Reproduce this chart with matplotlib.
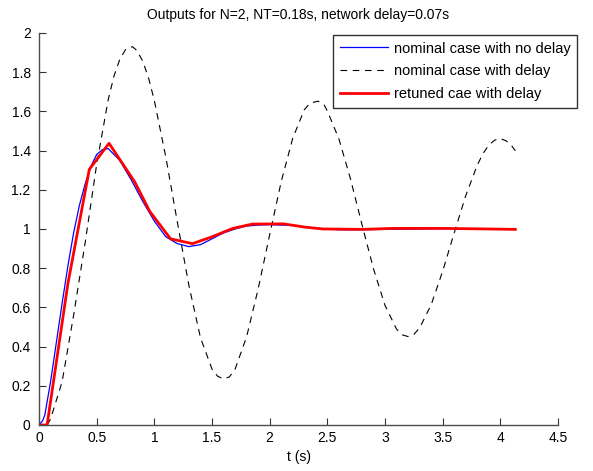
import matplotlib
matplotlib.use("Agg")
import matplotlib.pyplot as plt
from matplotlib.ticker import FormatStrFormatter

plt.rcParams['font.family'] = ['Liberation Sans', 'DejaVu Sans']

# nominal case with no delay (blue)
t_blue = [0, 0.03, 0.05, 0.1, 0.15, 0.2, 0.25, 0.3, 0.35, 0.4, 0.45, 0.5, 0.55,
          0.6, 0.7, 0.8, 0.9, 1.0, 1.1, 1.2, 1.3, 1.4, 1.5, 1.6, 1.7, 1.8,
          1.9, 2.0, 2.2, 2.4, 2.6, 2.8, 3.0, 3.3, 3.6, 3.9, 4.13]
y_blue = [0, 0.02, 0.05, 0.22, 0.42, 0.62, 0.81, 0.98, 1.12, 1.23, 1.32, 1.38, 1.405,
          1.41, 1.35, 1.25, 1.14, 1.04, 0.96, 0.925, 0.91, 0.92, 0.95, 0.98, 1.0, 1.015,
          1.02, 1.022, 1.018, 1.004, 0.996, 0.996, 0.998, 1.0, 1.002, 1.0, 0.998]

# nominal case with delay (black dashed)
t_dash = [0.07, 0.1, 0.2, 0.3, 0.4, 0.5, 0.6, 0.65, 0.7, 0.75, 0.81, 0.85, 0.9, 0.95,
          1.0, 1.1, 1.2, 1.3, 1.4, 1.5, 1.55, 1.6, 1.65, 1.7, 1.8, 1.9, 2.0, 2.1,
          2.2, 2.3, 2.35, 2.42, 2.47, 2.5, 2.6, 2.7, 2.8, 2.9, 3.0, 3.1, 3.15, 3.2,
          3.25, 3.3, 3.4, 3.5, 3.6, 3.7, 3.8, 3.85, 3.9, 3.95, 4.0, 4.05, 4.1, 4.13]
y_dash = [0.0, 0.03, 0.22, 0.56, 0.93, 1.33, 1.66, 1.78, 1.865, 1.915, 1.93, 1.91, 1.855, 1.77,
          1.655, 1.365, 1.033, 0.711, 0.445, 0.285, 0.248, 0.235, 0.245, 0.285, 0.45, 0.694, 0.971, 1.242,
          1.463, 1.608, 1.642, 1.652, 1.635, 1.602, 1.46, 1.257, 1.023, 0.797, 0.61, 0.489, 0.46, 0.451,
          0.462, 0.495, 0.613, 0.785, 0.98, 1.17, 1.326, 1.385, 1.428, 1.453, 1.461, 1.45, 1.423, 1.399]

# retuned case with delay (red)
t_red = [0, 0.07, 0.25, 0.436, 0.607, 0.83, 0.96, 1.14, 1.33, 1.5, 1.68, 1.85,
         2.12, 2.3, 2.46, 2.8, 3.07, 3.5, 3.9, 4.13]
y_red = [0, 0, 0.72, 1.304, 1.437, 1.24, 1.09, 0.95, 0.925, 0.96, 1.003, 1.025,
         1.026, 1.01, 1.0, 0.998, 1.003, 1.003, 1.0, 0.998]

labels = ['nominal case with no delay', 'nominal case with delay', 'retuned cae with delay']

fig = plt.figure(figsize=(5.93, 4.71), dpi=100)
ax = fig.add_axes([0.0658, 0.0977, 0.8752, 0.8323])

ax.plot(t_blue, y_blue, color='blue', lw=0.9, label=labels[0])
ax.plot(t_dash, y_dash, color='black', lw=0.8, dashes=(6, 5), label=labels[1])
ax.plot(t_red, y_red, color='red', lw=2.0, label=labels[2])

ax.set_xlim(0, 4.5)
ax.set_ylim(0, 2)
ax.set_xticks([0, 0.5, 1, 1.5, 2, 2.5, 3, 3.5, 4, 4.5])
ax.set_yticks([0, 0.2, 0.4, 0.6, 0.8, 1, 1.2, 1.4, 1.6, 1.8, 2])
ax.xaxis.set_major_formatter(FormatStrFormatter('%g'))
ax.yaxis.set_major_formatter(FormatStrFormatter('%g'))
ax.tick_params(direction='in', length=5, width=0.8, labelsize=10, color='0.2')
ax.tick_params(axis='y', pad=6)
ax.tick_params(axis='x', pad=4)
ax.spines['top'].set_visible(False)
ax.spines['right'].set_visible(False)
for s in ['left', 'bottom']:
    ax.spines[s].set_color('0.3')
    ax.spines[s].set_linewidth(1.0)

ax.set_title('Outputs for N=2, NT=0.18s, network delay=0.07s', fontsize=10, pad=10)
ax.set_xlabel('t (s)', fontsize=10, labelpad=4)

leg = ax.legend(loc='upper left', bbox_to_anchor=(333 / 593, 1 - 35 / 471),
                bbox_transform=fig.transFigure, fontsize=10.5, frameon=True,
                fancybox=False, borderaxespad=0, handlelength=3.3,
                handletextpad=0.4, labelspacing=0.6, borderpad=0.45)
leg.get_frame().set_edgecolor('black')
leg.get_frame().set_linewidth(1.0)

fig.savefig('out.png', dpi=100)
